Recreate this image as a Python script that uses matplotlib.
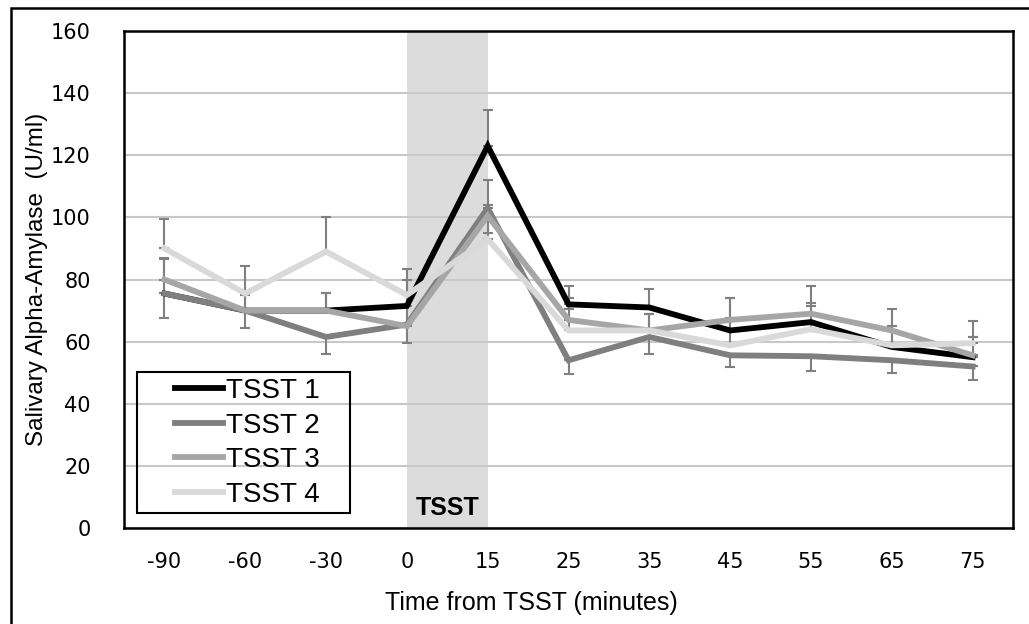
import matplotlib
matplotlib.use("Agg")
import matplotlib.pyplot as plt
from matplotlib.legend_handler import HandlerLine2D
import numpy as np

# time points (categorical axis) and series means
times = ["-90", "-60", "-30", "0", "15", "25", "35", "45", "55", "65", "75"]
tsst1 = [75.5, 70.0, 70.0, 71.5, 123.0, 72.0, 71.0, 63.6, 66.3, 58.3, 55.0]
tsst2 = [75.5, 70.0, 61.5, 65.5, 103.0, 54.0, 61.5, 55.6, 55.3, 54.0, 52.0]
tsst3 = [80.0, 70.0, 70.0, 65.0, 100.5, 67.0, 63.6, 67.0, 69.0, 63.6, 55.6]
tsst4 = [90.0, 75.5, 89.0, 75.0, 93.0, 63.6, 63.6, 58.8, 64.0, 58.8, 59.5]

# error bar half-widths (upper for 1, 3, 4; lower for 2)
err1 = [11.5, 5.0, 5.5, 8.5, 11.5, 5.8, 6.0, 10.4, 6.3, 6.7, 6.4]
err2 = [8.0, 5.5, 5.5, 6.0, 8.0, 4.5, 5.5, 3.8, 4.8, 4.2, 4.4]
err3 = [6.5, 5.0, 5.5, 10.0, 11.5, 7.0, 5.4, 7.0, 9.0, 6.8, 5.8]
err4 = [9.5, 9.0, 11.0, 8.5, 11.0, 6.8, 5.4, 8.7, 7.6, 6.2, 7.0]

labels = ["TSST 1", "TSST 2", "TSST 3", "TSST 4"]
colors = ["#000000", "#7f7f7f", "#a6a6a6", "#d9d9d9"]

fig = plt.figure(figsize=(10.29, 6.24), dpi=100)
ax = fig.add_axes([0.1205, 0.1538, 0.8640, 0.7965])

x = np.arange(len(times))
zero = np.zeros(len(times))

ax.axvspan(3, 4, color="#dcdcdc", zorder=0, lw=0)
ax.text(3.5, 4.2, "TSST", ha="center", va="baseline", fontsize=18,
        fontweight="bold", family="Liberation Sans")

series = [tsst1, tsst2, tsst3, tsst4]
errs = [(zero, err1), (err2, zero), (zero, err3), (zero, err4)]
for vals, e in zip(series, errs):
    ax.errorbar(x, vals, yerr=[e[0], e[1]], fmt="none", ecolor="#808080",
                elinewidth=1.5, capsize=3.8, capthick=1.5, zorder=2)
lines = []
for vals, lab, c in zip(series, labels, colors):
    ln, = ax.plot(x, vals, color=c, lw=4.2, label=lab, zorder=3,
                  solid_joinstyle="miter")
    lines.append(ln)

ax.set_xlim(-0.5, 10.5)
ax.set_ylim(0, 160)
ax.set_yticks(np.arange(0, 161, 20))
ax.set_xticks(x)
ax.set_xticklabels(times)
ax.tick_params(length=0, labelsize=15)
ax.tick_params(axis="x", pad=17)
ax.tick_params(axis="y", pad=24)
ax.yaxis.grid(True, color="#c8c8c8", lw=1.5)
ax.set_axisbelow(True)
for s in ax.spines.values():
    s.set_linewidth(1.8)

ax.set_xlabel("Time from TSST (minutes)", fontsize=18,
              family="Liberation Sans", labelpad=14)
ax.xaxis.label.set_x(0.458)
ax.set_ylabel("Salivary Alpha-Amylase  (U/ml)", fontsize=17.5,
              family=["Liberation Sans Narrow", "Liberation Sans"], labelpad=2)

# legend: frame drawn separately, handles padded on the left
ax.add_patch(plt.Rectangle((0.0146, 0.030), 0.2396, 0.284,
                           transform=ax.transAxes, fill=False, lw=1.5,
                           ec="black", zorder=5))
leg = ax.legend(handles=lines, loc="upper left",
                bbox_to_anchor=(0.0146, 0.302), frameon=False,
                borderaxespad=0, borderpad=0,
                handlelength=3.1, handletextpad=0.1, labelspacing=0.31,
                prop={"family": "Liberation Sans", "size": 20},
                handler_map={ln: HandlerLine2D(xpad=1.37) for ln in lines})
leg.set_zorder(6)

# outer frame of the original figure
fig.patches.append(plt.Rectangle((0.011, -0.1), 1.2, 1.087,
                                 transform=fig.transFigure, fill=False,
                                 lw=1.8, ec="black"))

fig.savefig("out.png", dpi=100)
